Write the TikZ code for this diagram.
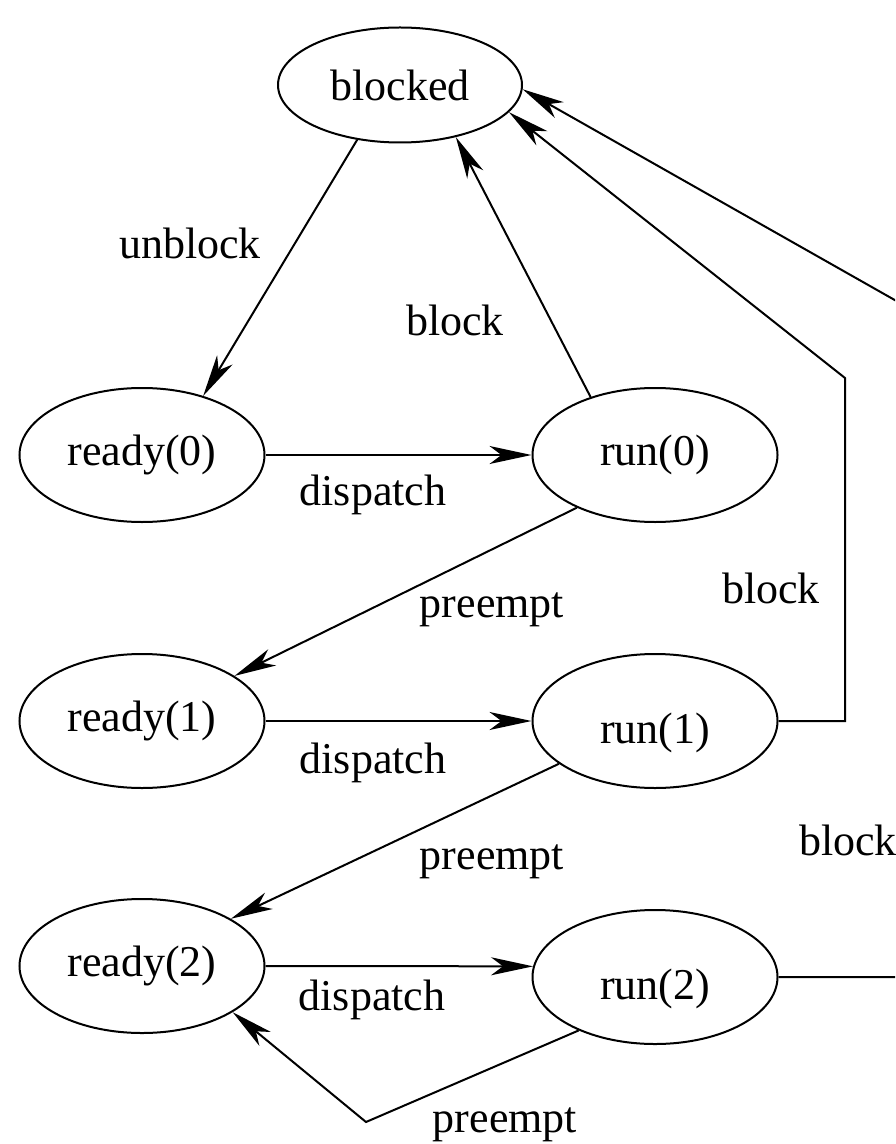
\documentclass[tikz,border=0pt]{standalone}
\usepackage{fontspec}
\setmainfont{Liberation Serif}
\usetikzlibrary{arrows.meta,shapes.geometric}

\begin{document}
\begin{tikzpicture}[
  x=0.5pt, y=-0.5pt,
  font=\fontsize{22}{26}\selectfont,
  % --- estilos de los estados ---
  state/.style={
    ellipse,
    draw,
    line width=1pt,
    inner sep=0pt,
    minimum width=122.5pt,
    minimum height=67pt
  },
  % --- estilo de las transiciones ---
  trans/.style={
    -{Stealth[length=21pt, width=9pt, inset=6pt]},
    line width=1pt
  },
  tlabel/.style={inner sep=0pt}
]

% marco de la figura (recortado a la derecha)
\useasboundingbox (0,0) rectangle (895,1144);
\clip (0,0) rectangle (895,1144);

% ---- ESTADOS ----
\node[state, minimum width=122pt, minimum height=57.5pt] (blocked) at (400,85) {blocked};

\node[state] (ready0) at (142,455) {ready(0)};
\node[state] (run0) at (655,455) {run(0)};

\node[state] (ready1) at (142,721) {ready(1)};
\node[state] (run1) at (655,721) {\raisebox{-6pt}[\height][\depth]{run(1)}};

\node[state] (ready2) at (142,966) {ready(2)};
\node[state] (run2) at (655,977) {\raisebox{-6pt}[\height][\depth]{run(2)}};

% puntos de quiebre
\coordinate (bend1) at (845,378);
\coordinate (bend2) at (366,1122);
\coordinate (bend3) at (960,337);

% ---- TRANSICIONES ----
% nivel 0
\draw[trans] (blocked.232) -- (ready0.44);
\draw[trans] (run0.138) -- (blocked.317);
\draw[trans] (ready0) -- (run0);
\draw[trans] (run0.214) -- (ready1.26);

% nivel 1
\draw[trans] (ready1) -- (run1);
\draw[trans] (run1.east) -| (bend1) -- (blocked.346);
\draw[trans] (run1.204) -- (ready2.28);

% nivel 2
\draw[trans] (ready2.east) -- (run2.175);
\draw[trans] (run2.215) -- (bend2) -- (ready2.333);
\draw[trans] (run2.east) -| (bend3) -- (blocked.358);

% ---- ETIQUETAS ----
\node[tlabel] (lunblock) at (190,243) {unblock};
\node[tlabel] (lblock0) at (455,320) {block};
\node[tlabel] (ldisp0) at (373,495) {dispatch};
\node[tlabel] (lpre0) at (492,610) {preempt};

\node[tlabel] (lblock1) at (771,588) {block};
\node[tlabel] (ldisp1) at (373,763) {dispatch};
\node[tlabel] (lpre1) at (492,862) {preempt};

\node[tlabel] (lblock2) at (848,840) {block};
\node[tlabel] (ldisp2) at (372,1000) {dispatch};
\node[tlabel] (lpre2) at (505,1125) {preempt};

\end{tikzpicture}
\end{document}
